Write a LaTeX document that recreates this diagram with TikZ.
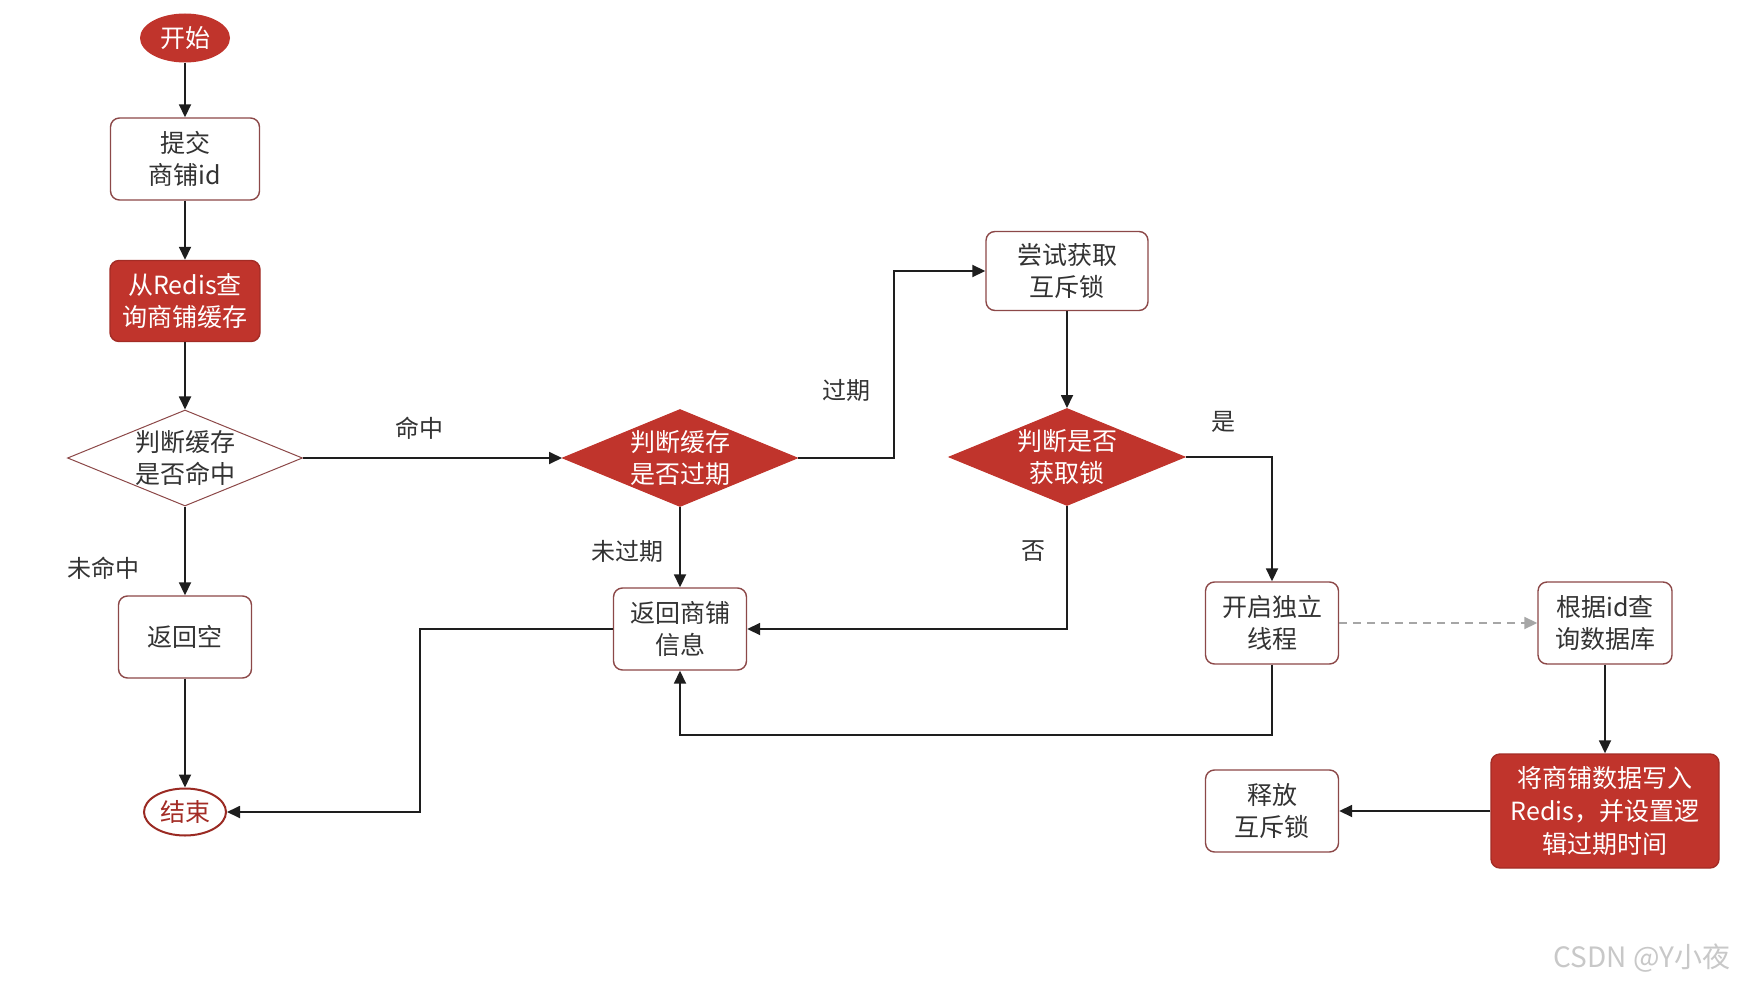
\documentclass[tikz,border=0pt]{standalone}
\usepackage{fontspec}
\setmainfont{Noto Sans CJK SC}
\usetikzlibrary{arrows.meta,positioning,shapes.geometric,calc}
\definecolor{flowRed}{RGB}{192,52,44}
\definecolor{flowEdge}{RGB}{140,72,72}
\definecolor{flowInk}{RGB}{51,51,51}
\definecolor{flowLine}{RGB}{30,30,30}
\definecolor{flowMark}{RGB}{200,200,200}

\begin{document}
\begin{tikzpicture}[x=1pt,y=-1pt,font=\fontsize{25}{32}\selectfont,
    term/.style={ellipse,fill=flowRed,text=white,minimum width=90pt,
                 minimum height=49pt,inner sep=0pt},
    termw/.style={ellipse,draw=flowRed!80!black,line width=2pt,fill=white,
                  text=flowRed!85!black,minimum width=82pt,minimum height=47pt,inner sep=0pt},
    proc/.style={rounded corners=9pt,draw=flowEdge,line width=1.4pt,fill=white,
                 text=flowInk,minimum width=133pt,minimum height=82pt,align=center,inner sep=2pt},
    procr/.style={proc,draw=flowRed!85!black,fill=flowRed,text=white},
    decide/.style={diamond,aspect=2.4,inner sep=-8pt,draw=flowEdge,line width=1pt,
                   fill=white,text=flowInk,minimum width=235pt,minimum height=96pt,align=center},
    decider/.style={decide,draw=flowRed,fill=flowRed,text=white},
    lbl/.style={text=flowInk,font=\fontsize{24}{28}\selectfont},
    ar/.style={-{Triangle[length=13pt,width=12pt]},flowLine,line width=1.8pt}]
    \fill[white] (0,0) rectangle (1756,987);
    \useasboundingbox (0,0) rectangle (1756,987);
    \node[term] (start) at (185,38) {开始};
    \node[proc,minimum width=149pt] (submit) at (185,159) {提交\\商铺id};
    \node[procr,minimum width=150pt,minimum height=81pt] (query) at (185,301) {从Redis查\\询商铺缓存};
    \node[decide] (hit) at (185,458) {判断缓存\\是否命中};
    \node[proc] (empty) at (185,637) {返回空};
    \node[termw] (end) at (185,812) {结束};
    \node[decider,minimum height=97pt] (expire) at (680,458) {判断缓存\\是否过期};
    \node[proc] (ret) at (680,629) {返回商铺\\信息};
    \node[proc,minimum width=162pt,minimum height=79pt] (try) at (1067,271) {尝试获取\\互斥锁};
    \node[decider,minimum width=236pt,minimum height=97pt] (lock) at (1067,457) {判断是否\\获取锁};
    \node[proc] (thread) at (1272,623) {开启独立\\线程};
    \node[proc,minimum width=134pt] (db) at (1605,623) {根据id查\\询数据库};
    \node[procr,minimum width=228pt,minimum height=114pt,font=\fontsize{25}{33}\selectfont]
      (write) at (1605,811) {将商铺数据写入\\Redis，并设置逻\\辑过期时间};
    \node[proc] (release) at (1272,811) {释放\\互斥锁};
    \node[lbl] (lhit) at (419,428) {命中};
    \node[lbl] (lmiss) at (103,568) {未命中};
    \node[lbl] (lexp) at (846,390) {过期};
    \node[lbl] (lnexp) at (627,551) {未过期};
    \node[lbl] (lyes) at (1223,422) {是};
    \node[lbl] (lno) at (1033,551) {否};
    \node[text=flowMark,font=\fontsize{28}{32}\selectfont] (mark) at (1642,958) {CSDN @Y小夜};
    \draw[ar] (start) -- (submit);
    \draw[ar] (submit) -- (query);
    \draw[ar] (query) -- (hit);
    \draw[ar] (hit) -- (empty);
    \draw[ar] (empty) -- (end);
    \draw[ar] (hit.east) -- (expire.west);
    \draw[ar] (expire.east) -- ++(96,0) |- (try.west);
    \draw[ar] (expire.south) -- (ret.north);
    \draw[ar] (try) -- (lock);
    \draw[ar] (lock.east) -| (thread.north);
    \draw[ar] (lock.south) |- (ret.east);
    \draw[ar] (ret.west) -- ++(-193,0) |- (end.east);
    \draw[ar] (thread.south) -- ++(0,70) -| (ret.south);
    \draw[ar,gray!70,dashed,dash pattern=on 8pt off 6pt] (thread.east) -- (db.west);
    \draw[ar] (db) -- (write);
    \draw[ar] (write.west) -- (release.east);
  \end{tikzpicture}
\end{document}
